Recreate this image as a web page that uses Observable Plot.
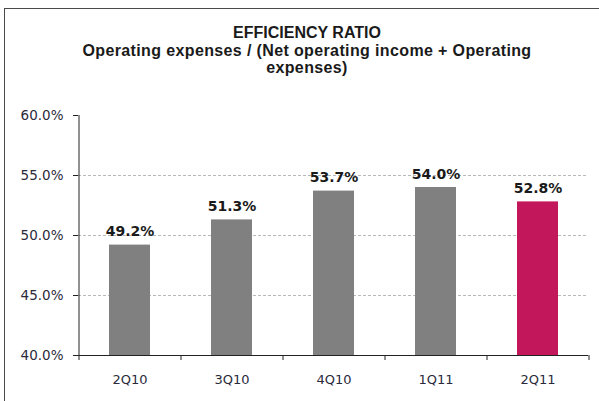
<!DOCTYPE html>
<html>
<head>
<meta charset="utf-8">
<script src="https://cdn.jsdelivr.net/npm/d3@7"></script>
<script src="https://cdn.jsdelivr.net/npm/@observablehq/plot@0.6"></script>
<style>
  html, body { margin: 0; padding: 0; background: #fff; }
  #wrap { position: relative; width: 599px; height: 401px; overflow: hidden; background: #fff; }
  #frame { position: absolute; left: 4px; top: 8px; width: 700px; height: 500px;
           border-top: 1px solid #4a4a4a; border-left: 1px solid #4a4a4a; box-sizing: border-box; }
  #title { position: absolute; left: 32px; width: 550px; top: 24px; text-align: center;
           font-family: "Liberation Sans", Arial, sans-serif; font-weight: bold; font-size: 16px;
           line-height: 17.5px; color: #1a1a1a; white-space: nowrap; }
  #title .sub { letter-spacing: 0.37px; }
  #chart { position: absolute; left: 0; top: 95px; }
</style>
</head>
<body>
<div id="wrap">
  <div id="frame"></div>
  <div id="title">
    <div>EFFICIENCY RATIO</div>
    <div class="sub">Operating expenses / (Net operating income + Operating<br>expenses)</div>
  </div>
  <div id="chart"></div>
</div>
<script>
const categories = ["2Q10", "3Q10", "4Q10", "1Q11", "2Q11"];
const values = [49.2, 51.3, 53.7, 54.0, 52.8];
const highlight = [false, false, false, false, true];
const yTicks = [40, 45, 50, 55, 60];
const gridValues = [45, 50, 55];

const data = categories.map((c, i) => ({quarter: c, value: values[i], current: highlight[i]}));

const W = 599, H = 306, mL = 78, mR = 11, mT = 20, mB = 46;
const step = (W - mL - mR) / categories.length;
const yMin = yTicks[0], yMax = yTicks[yTicks.length - 1];

const chart = Plot.plot({
  width: W, height: H,
  marginLeft: mL, marginRight: mR, marginTop: mT, marginBottom: mB,
  style: {fontFamily: "DejaVu Sans, Verdana, sans-serif", fontSize: "13px", color: "#222", background: "transparent"},
  x: {domain: categories, paddingInner: 0.6, paddingOuter: 0.3, axis: null, label: null},
  y: {domain: [yMin, yMax], axis: null, label: null},
  marks: [
    Plot.ruleY(gridValues, {stroke: "#b8b8b8", strokeDasharray: "3,2"}),
    Plot.barY(data, {x: "quarter", y1: () => yMin, y2: "value",
      fill: d => d.current ? "#C2185B" : "#808080"}),
    Plot.ruleY([yMin], {stroke: "#222"}),
    Plot.ruleX([categories[0]], {dx: -step / 2, y1: () => yMin, y2: () => yMax, stroke: "#222"}),
    Plot.axisY({ticks: yTicks, tickFormat: d => d.toFixed(1) + "%", tickSize: 5, tickPadding: 10, fill: "#2a2a3a", fontSize: 13.5, label: null}),
    Plot.axisX({tickSize: 0, tickPadding: 19, fill: "#2a2a3a", label: null}),
    Plot.axisX({tickSize: 5, tickFormat: () => "", dx: step / 2, label: null}),
    Plot.axisX({ticks: [categories[0]], tickSize: 5, tickFormat: () => "", dx: -step / 2, label: null}),
    Plot.text(data, {x: "quarter", y: "value", text: d => d.value.toFixed(1) + "%",
      lineAnchor: "bottom", dy: -9, fontWeight: "bold", fontSize: 14, fill: "#1a1a1a"})
  ]
});
document.getElementById("chart").appendChild(chart);
</script>
</body>
</html>
